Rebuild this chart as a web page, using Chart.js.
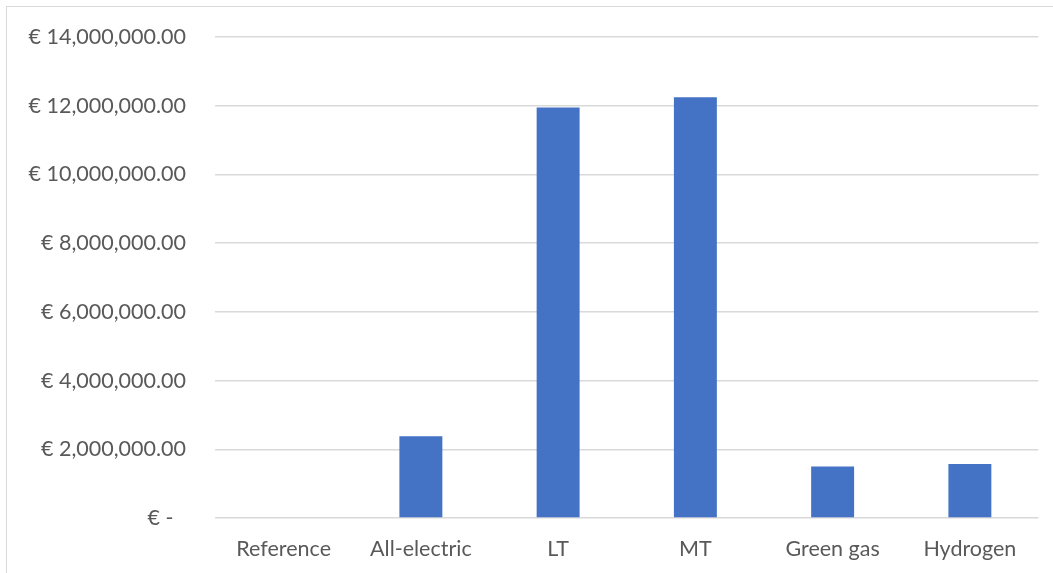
<!DOCTYPE html>
<html>
<head>
<meta charset="utf-8">
<script src="https://cdn.jsdelivr.net/npm/chart.js@4"></script>
<style>
  html, body { margin: 0; padding: 0; background: #ffffff; overflow: hidden; }
  #frame {
    position: absolute; left: 6px; top: 6px; width: 1100px; height: 620px;
    border-left: 1.5px solid #d9d9d9; border-top: 1.5px solid #d9d9d9;
  }
  #wrap { position: absolute; left: 0; top: 0; width: 1053px; height: 573px; }
</style>
</head>
<body>
<div id="frame"></div>
<div id="wrap"><canvas id="chart" width="1053" height="573"></canvas></div>
<script>
// Cost per scenario (EUR)
const categories = ['Reference', 'All-electric', 'LT', 'MT', 'Green gas', 'Hydrogen'];
const costs = [0, 2380000, 11950000, 12250000, 1500000, 1570000];

// Value axis
const yTickValues = [0, 2000000, 4000000, 6000000, 8000000, 10000000, 12000000, 14000000];
const yTickLabels = [
  '€ -\u2007', '€ 2,000,000.00', '€ 4,000,000.00', '€ 6,000,000.00',
  '€ 8,000,000.00', '€ 10,000,000.00', '€ 12,000,000.00', '€ 14,000,000.00'
];

const FONT = { family: 'Lato, "Open Sans", sans-serif', size: 21.5 };
const TEXT = '#595959';
const GRID = '#d9d9d9';

new Chart(document.getElementById('chart'), {
  type: 'bar',
  data: {
    labels: categories,
    datasets: [{
      data: costs,
      backgroundColor: '#4472c4',
      borderWidth: 0,
      barPercentage: 0.313,
      categoryPercentage: 1.0
    }]
  },
  options: {
    responsive: false,
    animation: false,
    events: [],
    layout: { padding: { top: 37, right: 14.5, bottom: 0, left: 0 } },
    plugins: { legend: { display: false }, tooltip: { enabled: false } },
    scales: {
      x: {
        grid: { display: false },
        border: { display: false },
        ticks: { color: TEXT, font: FONT, padding: 10, maxRotation: 0, autoSkip: false },
        afterFit(scale) { scale.height = 55; }
      },
      y: {
        min: yTickValues[0],
        max: yTickValues[yTickValues.length - 1],
        afterBuildTicks(scale) { scale.ticks = yTickValues.map(v => ({ value: v })); },
        grid: { color: GRID, lineWidth: 1.5, drawTicks: false },
        border: { display: false },
        ticks: {
          color: TEXT, font: FONT, padding: 29,
          callback: (value, index) => yTickLabels[index]
        },
        afterFit(scale) {
          // fixed label column; the horizontal label gap should not pad the plot vertically
          scale.width = 215;
          scale.paddingTop = 0;
          scale.paddingBottom = 0;
        }
      }
    }
  }
});
</script>
</body>
</html>
